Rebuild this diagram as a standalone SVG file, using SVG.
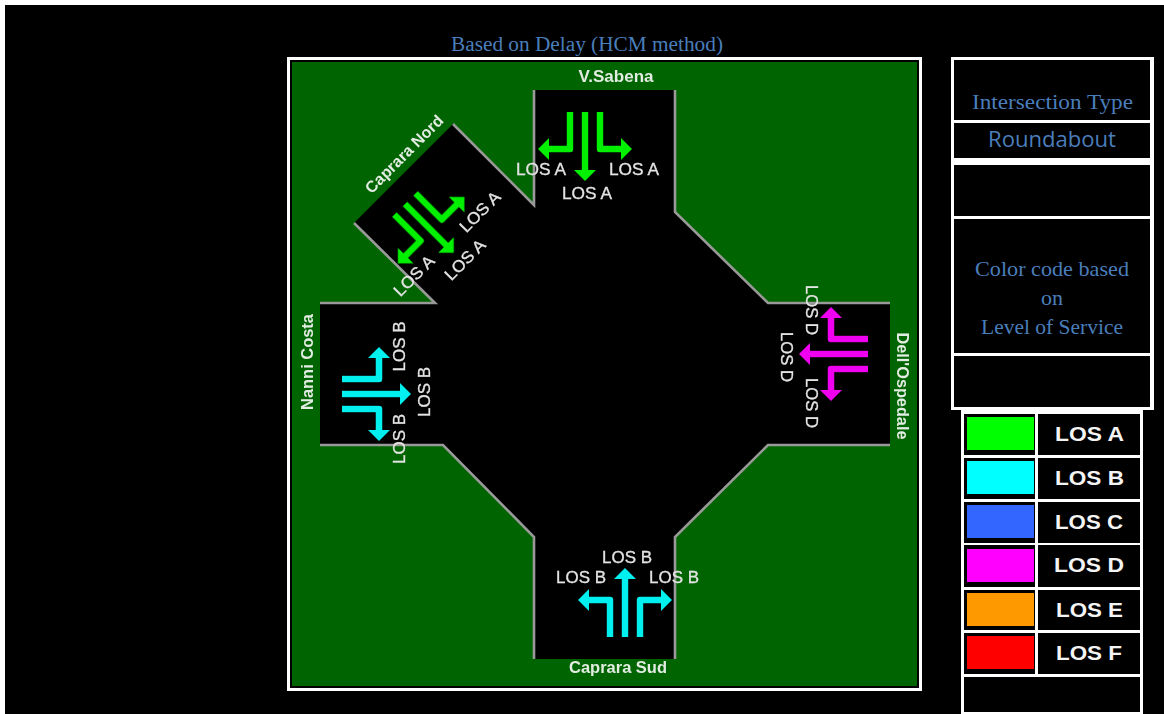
<svg xmlns="http://www.w3.org/2000/svg" width="1164" height="714" viewBox="0 0 1164 714">
<style>
.w{fill:#fff}.k{fill:#000}
.road{fill:#000}
.edge{fill:none;stroke:#999;stroke-width:2.6}
.blue{fill:#4a7ebb;font-family:"Liberation Serif",serif;font-size:20px}
.tall{font-size:21.5px}
.rd{fill:#4a7ebb;font-family:"Open Sans",sans-serif;font-size:21px}
.name{fill:#e2ece2;font-family:"Liberation Sans",Arial,sans-serif;font-size:16px;font-weight:bold;text-anchor:middle}
.los{fill:#e4e4e4;font-family:"Liberation Sans",Arial,sans-serif;font-size:16.5px;text-anchor:middle;stroke:#e4e4e4;stroke-width:.3}
.leg{fill:#f4f4f4;font-family:"Liberation Sans",Arial,sans-serif;font-size:21px;font-weight:bold}
.sh{fill:none;stroke-width:6.4;stroke-linejoin:round}
</style>
<defs>
<filter id="soft" x="-10%" y="-10%" width="120%" height="120%"><feGaussianBlur stdDeviation="0.4"/></filter>
<g id="arrows">
<path class="sh" d="M0 0V59"/>
<path class="sh" d="M-15 0V37H-36"/>
<path class="sh" d="M15 0V37H36"/>
<path stroke="none" d="M-11 58H11L0 69Z"/>
<path stroke="none" d="M-36 26V48L-47 37Z"/>
<path stroke="none" d="M36 26V48L47 37Z"/>
</g>
</defs>
<rect width="1164" height="714" class="w"/>
<rect x="5" y="5" width="1159" height="709" class="k"/>
<text class="blue" x="451" y="51" textLength="272" lengthAdjust="spacingAndGlyphs">Based on Delay (HCM method)</text>

<g id="map">
<rect x="287" y="57" width="635" height="634" class="w"/>
<rect x="290" y="60" width="629" height="628" class="k"/>
<rect x="292" y="62" width="625" height="624" fill="#006400"/>
<g filter="url(#soft)">
<path class="road" d="M534 90H675V212L768 303H890V445H768L675 537V659H534V537L443 445H320V303H435L354 223L453 124L534 205Z"/>
<path class="edge" d="M534 90V205L453 124"/>
<path class="edge" d="M354 223L435 303H320"/>
<path class="edge" d="M675 90V212L768 303H890"/>
<path class="edge" d="M890 445H768L675 537V659"/>
<path class="edge" d="M534 659V537L443 445H320"/>
</g>
</g>

<g id="connectors" filter="url(#soft)">
<use href="#arrows" transform="translate(585 112)" stroke="#00f000" fill="#00f000"/>
<use href="#arrows" transform="translate(405 204) rotate(-45)" stroke="#00f000" fill="#00f000"/>
<use href="#arrows" transform="translate(342 394) rotate(-90)" stroke="#00f0f0" fill="#00f0f0"/>
<use href="#arrows" transform="translate(625 637) rotate(180)" stroke="#00f0f0" fill="#00f0f0"/>
<use href="#arrows" transform="translate(868 354) rotate(90)" stroke="#f000f0" fill="#f000f0"/>
</g>

<g id="approach-north" filter="url(#soft)">
<text class="name" x="616" y="82" textLength="75" lengthAdjust="spacingAndGlyphs">V.Sabena</text>
<text class="los" x="541" y="175" textLength="50" lengthAdjust="spacingAndGlyphs">LOS A</text>
<text class="los" x="634" y="175" textLength="50" lengthAdjust="spacingAndGlyphs">LOS A</text>
<text class="los" x="587" y="199" textLength="50" lengthAdjust="spacingAndGlyphs">LOS A</text>
</g>
<g id="approach-northwest" filter="url(#soft)">
<text class="name" transform="translate(408 158) rotate(-45)" textLength="103" lengthAdjust="spacingAndGlyphs">Caprara Nord</text>
<text class="los" transform="translate(480 212) rotate(-45)" y="5.5" textLength="50" lengthAdjust="spacingAndGlyphs">LOS A</text>
<text class="los" transform="translate(465 260) rotate(-45)" y="5.5" textLength="50" lengthAdjust="spacingAndGlyphs">LOS A</text>
<text class="los" transform="translate(414 276) rotate(-45)" y="5.5" textLength="50" lengthAdjust="spacingAndGlyphs">LOS A</text>
</g>
<g id="approach-west" filter="url(#soft)">
<text class="name" transform="translate(313 362) rotate(-90)" textLength="96" lengthAdjust="spacingAndGlyphs">Nanni Costa</text>
<text class="los" transform="translate(399 346.500) rotate(-90)" y="5.500" textLength="50" lengthAdjust="spacingAndGlyphs">LOS B</text>
<text class="los" transform="translate(424 392) rotate(-90)" y="5.500" textLength="50" lengthAdjust="spacingAndGlyphs">LOS B</text>
<text class="los" transform="translate(399 439) rotate(-90)" y="5.500" textLength="50" lengthAdjust="spacingAndGlyphs">LOS B</text>
</g>
<g id="approach-east" filter="url(#soft)">
<text class="name" transform="translate(897 386) rotate(90)" textLength="107" lengthAdjust="spacingAndGlyphs">Dell'Ospedale</text>
<text class="los" transform="translate(811 310) rotate(90)" y="5.500" textLength="50" lengthAdjust="spacingAndGlyphs">LOS D</text>
<text class="los" transform="translate(786 357) rotate(90)" y="5.500" textLength="50" lengthAdjust="spacingAndGlyphs">LOS D</text>
<text class="los" transform="translate(811 403) rotate(90)" y="5.500" textLength="50" lengthAdjust="spacingAndGlyphs">LOS D</text>
</g>
<g id="approach-south" filter="url(#soft)">
<text class="name" x="618" y="673" textLength="98" lengthAdjust="spacingAndGlyphs">Caprara Sud</text>
<text class="los" x="627" y="563" textLength="50" lengthAdjust="spacingAndGlyphs">LOS B</text>
<text class="los" x="581" y="583" textLength="50" lengthAdjust="spacingAndGlyphs">LOS B</text>
<text class="los" x="674" y="583" textLength="50" lengthAdjust="spacingAndGlyphs">LOS B</text>
</g>

<g id="info-panel">
<rect x="951" y="57" width="203" height="353" class="w"/>
<rect x="954" y="60" width="196" height="60" class="k"/>
<rect x="954" y="123" width="196" height="35" class="k"/>
<rect x="954" y="165" width="196" height="51" class="k"/>
<rect x="954" y="219" width="196" height="134" class="k"/>
<rect x="954" y="356" width="196" height="51" class="k"/>
<text class="blue tall" x="972" y="109" textLength="161" lengthAdjust="spacingAndGlyphs">Intersection Type</text>
<text class="rd" x="988" y="147" textLength="128" lengthAdjust="spacingAndGlyphs">Roundabout</text>
<text class="blue tall" x="975" y="276" textLength="154" lengthAdjust="spacingAndGlyphs">Color code based</text>
<text class="blue tall" x="1041" y="305" textLength="22" lengthAdjust="spacingAndGlyphs">on</text>
<text class="blue tall" x="981" y="334" textLength="142" lengthAdjust="spacingAndGlyphs">Level of Service</text>
</g>

<g id="legend">
<rect x="961" y="410" width="182" height="304" class="w"/>
<rect x="964" y="414" width="71" height="41" class="k"/><rect x="1038" y="414" width="102" height="41" class="k"/>
<rect x="964" y="458" width="71" height="41" class="k"/><rect x="1038" y="458" width="102" height="41" class="k"/>
<rect x="964" y="502" width="71" height="41" class="k"/><rect x="1038" y="502" width="102" height="41" class="k"/>
<rect x="964" y="545" width="71" height="42" class="k"/><rect x="1038" y="545" width="102" height="42" class="k"/>
<rect x="964" y="590" width="71" height="40" class="k"/><rect x="1038" y="590" width="102" height="40" class="k"/>
<rect x="964" y="633" width="71" height="41" class="k"/><rect x="1038" y="633" width="102" height="41" class="k"/>
<rect x="964" y="677" width="176" height="35" class="k"/>
<rect x="967" y="417" width="67" height="33" fill="#00ff00"/>
<rect x="967" y="461" width="67" height="33" fill="#00ffff"/>
<rect x="967" y="505" width="67" height="33" fill="#3366ff"/>
<rect x="967" y="549" width="67" height="33" fill="#ff00ff"/>
<rect x="967" y="593" width="67" height="33" fill="#ff9900"/>
<rect x="967" y="636" width="67" height="33" fill="#ff0000"/>
<text class="leg" x="1055" y="441" textLength="69" lengthAdjust="spacingAndGlyphs">LOS A</text>
<text class="leg" x="1055" y="485" textLength="69" lengthAdjust="spacingAndGlyphs">LOS B</text>
<text class="leg" x="1055" y="529" textLength="68" lengthAdjust="spacingAndGlyphs">LOS C</text>
<text class="leg" x="1054" y="572" textLength="70" lengthAdjust="spacingAndGlyphs">LOS D</text>
<text class="leg" x="1056" y="617" textLength="67" lengthAdjust="spacingAndGlyphs">LOS E</text>
<text class="leg" x="1056" y="660" textLength="66" lengthAdjust="spacingAndGlyphs">LOS F</text>
</g>
</svg>
